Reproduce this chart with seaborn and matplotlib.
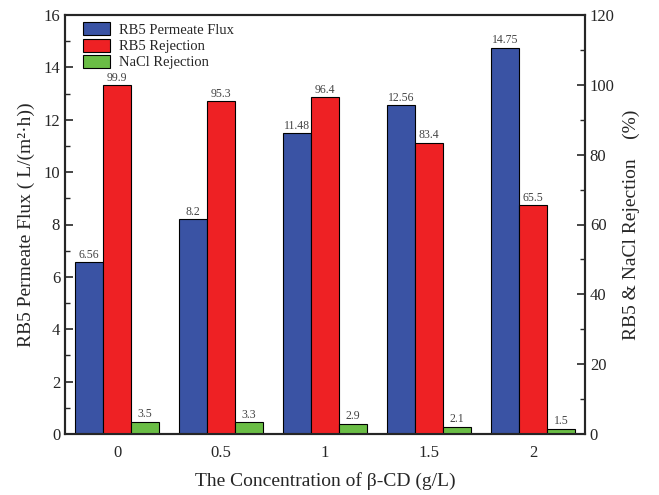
import numpy as np
import pandas as pd
import matplotlib
matplotlib.use("Agg")
import matplotlib.pyplot as plt
import seaborn as sns
from matplotlib.patches import Patch
from matplotlib.ticker import MultipleLocator

# data
conc = ["0", "0.5", "1", "1.5", "2"]
flux = [6.56, 8.2, 11.48, 12.56, 14.75]
rb5_rej = [99.9, 95.3, 96.4, 83.4, 65.5]
nacl_rej = [3.5, 3.3, 2.9, 2.1, 1.5]
series = ["RB5 Permeate Flux", "RB5 Rejection", "NaCl Rejection"]
colors = ["#3A53A4", "#EE2124", "#6ABD45"]

sns.set_style("ticks")
plt.rcParams["font.family"] = ["Liberation Serif", "DejaVu Serif"]
plt.rcParams["xtick.direction"] = "in"
plt.rcParams["ytick.direction"] = "in"

df = pd.DataFrame({
    "conc": conc * 3,
    "value": flux + rb5_rej + nacl_rej,
    "series": [s for s in series for _ in conc],
})
pal = dict(zip(series, colors))

fig = plt.figure(figsize=(6.59, 4.95), dpi=100)
ax = fig.add_axes([65 / 659, 1 - 434 / 495, 520 / 659, 419 / 495])
ax2 = ax.twinx()

left_df = df[df.series == series[0]]
right_df = df[df.series != series[0]]
bar_kw = dict(x="conc", y="value", hue="series", hue_order=series, order=conc,
              palette=pal, width=0.81, dodge=True, saturation=1,
              edgecolor="black", linewidth=0.8, legend=False)
sns.barplot(data=left_df, ax=ax, **bar_kw)
sns.barplot(data=right_df, ax=ax2, **bar_kw)

lab_kw = dict(fontsize=8.5, color="#444444", padding=1)


def good(a):
    return [c for c in a.containers
            if len(c.patches) and all(p is not None for p in c.patches)]


for c in good(ax):
    ax.bar_label(c, labels=[f"{v:g}" for v in flux], **lab_kw)
for c, vals in zip(good(ax2), [rb5_rej, nacl_rej]):
    ax2.bar_label(c, labels=[f"{v:g}" for v in vals], **lab_kw)

ax.set_xlim(-0.5, 4.5)
ax.set_ylim(0, 16)
ax2.set_ylim(0, 120)
ax.yaxis.set_major_locator(MultipleLocator(2))
ax.yaxis.set_minor_locator(MultipleLocator(1))
ax2.yaxis.set_major_locator(MultipleLocator(20))
ax2.yaxis.set_minor_locator(MultipleLocator(10))
ax.tick_params(axis="x", length=0, labelsize=12, pad=8)
ax.tick_params(axis="y", which="major", length=6, width=1.2, labelsize=12)
ax.tick_params(axis="y", which="minor", length=3.5, width=1.0)
ax2.tick_params(axis="y", which="major", length=6, width=1.2, labelsize=12)
ax2.tick_params(axis="y", which="minor", length=3.5, width=1.0)
for a in (ax, ax2):
    for sp in a.spines.values():
        sp.set_linewidth(1.5)
        sp.set_visible(True)

ax.set_xlabel("The Concentration of β-CD (g/L)", fontsize=14, labelpad=8)
ax.set_ylabel("RB5 Permeate Flux ( L/(m²·h))", fontsize=14, labelpad=6)
ax2.set_ylabel("RB5 & NaCl Rejection    (%)", fontsize=14, labelpad=6)

handles = [Patch(facecolor=c, edgecolor="black", linewidth=0.8) for c in colors]
ax.legend(handles, series, loc="upper left", frameon=False, fontsize=10.5,
          handlelength=1.9, handleheight=1.0, borderaxespad=0.1,
          labelspacing=0.12, handletextpad=0.6, bbox_to_anchor=(0.02, 1.0))

fig.savefig("out.png", dpi=100)
